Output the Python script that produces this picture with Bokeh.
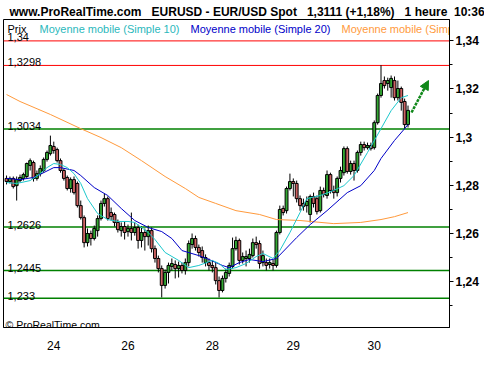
from bokeh.plotting import figure
from bokeh.models import Range1d, Span, Label, FixedTicker, Arrow, NormalHead, ColumnDataSource, Title
from bokeh.core.properties import value
from bokeh.embed import file_html
from bokeh.resources import INLINE

# ---------------- data (EUR/USD, hourly candles) ----------------
opens = [
1.2828,1.2815,1.2828,1.2798,1.2819,1.2828,1.2836,1.2882,1.2894,1.2828,
1.2848,1.2861,1.2907,1.2931,1.2961,1.2948,1.2902,1.2861,1.2832,1.2786,
1.2823,1.2807,1.2715,1.2665,1.2561,1.2599,1.2578,1.2611,1.2661,1.2724,
1.2744,1.2686,1.2678,1.2645,1.2611,1.2628,1.2607,1.2620,1.2603,1.2624,
1.2570,1.2603,1.2586,1.2611,1.2536,1.2495,1.2453,1.2383,1.2437,1.2462,
1.2470,1.2453,1.2466,1.2445,1.2478,1.2553,1.2578,1.2541,1.2528,1.2478,
1.2478,1.2466,1.2457,1.2403,1.2362,1.2412,1.2433,1.2462,1.2536,1.2570,
1.2487,1.2495,1.2495,1.2507,1.2561,1.2557,1.2478,1.2478,1.2470,1.2474,
1.2466,1.2603,1.2703,1.2694,1.2786,1.2815,1.2807,1.2744,1.2724,1.2715,
1.2678,1.2753,1.2744,1.2694,1.2778,1.2757,1.2844,1.2778,1.2769,1.2828,
1.2852,1.2952,1.2857,1.2890,1.2861,1.2936,1.2969,1.2956,1.2965,1.2956,
1.3060,1.3173,1.3235,1.3223,1.3206,1.3235,1.3164,1.3202,1.3148,1.3052,
]
closes = [
1.2815,1.2828,1.2794,1.2823,1.2832,1.2844,1.2890,1.2902,1.2828,1.2848,
1.2869,1.2907,1.2936,1.2965,1.2944,1.2902,1.2861,1.2828,1.2786,1.2823,
1.2769,1.2715,1.2665,1.2561,1.2599,1.2578,1.2620,1.2661,1.2724,1.2744,
1.2661,1.2670,1.2645,1.2615,1.2628,1.2603,1.2620,1.2603,1.2624,1.2570,
1.2603,1.2586,1.2611,1.2536,1.2495,1.2453,1.2383,1.2437,1.2466,1.2474,
1.2453,1.2466,1.2445,1.2478,1.2557,1.2578,1.2541,1.2520,1.2499,1.2499,
1.2466,1.2457,1.2403,1.2362,1.2412,1.2437,1.2466,1.2536,1.2570,1.2487,
1.2503,1.2503,1.2512,1.2561,1.2553,1.2474,1.2507,1.2466,1.2478,1.2466,
1.2603,1.2699,1.2686,1.2786,1.2815,1.2807,1.2744,1.2715,1.2711,1.2732,
1.2753,1.2724,1.2690,1.2778,1.2761,1.2844,1.2778,1.2769,1.2828,1.2861,
1.2952,1.2857,1.2890,1.2861,1.2936,1.2969,1.2956,1.2965,1.2952,1.3060,
1.3173,1.3223,1.3214,1.3235,1.3244,1.3164,1.3202,1.3144,1.3052,1.3111,
]
highs = [
1.2840,1.2836,1.2836,1.2836,1.2844,1.2852,1.2894,1.2911,1.2902,1.2861,
1.2882,1.2915,1.2944,1.3006,1.2981,1.2956,1.2911,1.2869,1.2840,1.2832,
1.2836,1.2815,1.2736,1.2674,1.2620,1.2611,1.2632,1.2674,1.2736,1.2765,
1.2753,1.2707,1.2686,1.2657,1.2645,1.2649,1.2636,1.2686,1.2645,1.2636,
1.2628,1.2620,1.2632,1.2624,1.2549,1.2507,1.2466,1.2449,1.2478,1.2495,
1.2487,1.2482,1.2478,1.2495,1.2570,1.2599,1.2590,1.2553,1.2545,1.2512,
1.2495,1.2487,1.2478,1.2420,1.2424,1.2453,1.2478,1.2582,1.2586,1.2578,
1.2520,1.2528,1.2536,1.2578,1.2586,1.2570,1.2528,1.2495,1.2495,1.2491,
1.2611,1.2715,1.2715,1.2794,1.2848,1.2828,1.2819,1.2757,1.2744,1.2753,
1.2761,1.2769,1.2757,1.2794,1.2790,1.2861,1.2852,1.2798,1.2836,1.2877,
1.2961,1.2961,1.2902,1.2902,1.2944,1.2981,1.2981,1.2977,1.2977,1.3069,
1.3181,1.3299,1.3252,1.3247,1.3256,1.3252,1.3235,1.3210,1.3160,1.3131,
]
lows = [
1.2803,1.2807,1.2786,1.2736,1.2811,1.2819,1.2828,1.2861,1.2815,1.2819,
1.2836,1.2852,1.2898,1.2923,1.2931,1.2894,1.2852,1.2819,1.2778,1.2769,
1.2761,1.2707,1.2657,1.2541,1.2545,1.2549,1.2570,1.2586,1.2653,1.2711,
1.2653,1.2653,1.2628,1.2603,1.2586,1.2574,1.2586,1.2570,1.2590,1.2536,
1.2541,1.2528,1.2549,1.2520,1.2478,1.2437,1.2333,1.2370,1.2391,1.2445,
1.2412,1.2416,1.2433,1.2428,1.2462,1.2536,1.2528,1.2503,1.2478,1.2462,
1.2445,1.2437,1.2387,1.2333,1.2354,1.2395,1.2420,1.2453,1.2528,1.2470,
1.2474,1.2462,1.2478,1.2499,1.2536,1.2453,1.2462,1.2445,1.2453,1.2445,
1.2457,1.2595,1.2674,1.2682,1.2778,1.2753,1.2728,1.2694,1.2694,1.2686,
1.2645,1.2707,1.2678,1.2686,1.2749,1.2744,1.2765,1.2744,1.2753,1.2811,
1.2840,1.2848,1.2844,1.2819,1.2852,1.2923,1.2944,1.2948,1.2944,1.2948,
1.3052,1.3164,1.3202,1.3193,1.3164,1.3152,1.3152,1.3110,1.3035,1.3040,
]

ma10_idx = [0,3,7,10,12,14,16,18,20,22,24,27,30,33,36,38,42,44,47,51,54,57,61,63,65,68,71,74,76,79,
            81,84,87,89,93,97,100,103,107,111,114,117,119]
ma10_val = [1.2811,1.2807,1.2819,1.2848,1.2873,1.2890,1.2886,1.2873,1.2848,1.2807,
            1.2744,1.2682,1.2657,1.2649,1.2649,1.2645,1.2603,1.2574,1.2520,1.2487,
            1.2457,1.2466,1.2487,1.2474,1.2449,1.2457,1.2474,1.2503,1.2516,1.2495,
            1.2528,1.2603,1.2686,1.2744,1.2757,1.2778,1.2798,1.2840,1.2936,1.3035,
            1.3110,1.3164,1.3173]
ma20_idx = [0,4,8,11,14,16,20,22,26,30,34,38,42,46,49,52,57,60,64,66,69,72,76,80,86,90,95,101,105,
            109,111,115,118,119]
ma20_val = [1.2828,1.2823,1.2832,1.2852,1.2873,1.2873,1.2861,1.2840,1.2790,1.2757,
            1.2703,1.2653,1.2624,1.2607,1.2578,1.2528,1.2507,1.2491,1.2466,1.2457,
            1.2478,1.2491,1.2482,1.2495,1.2582,1.2636,1.2694,1.2769,1.2798,1.2861,
            1.2911,1.2986,1.3035,1.3052]
ma100_idx = [0,4,13,22,28,34,40,47,53,57,62,68,75,80,87,97,105,111,115,119]
ma100_val = [1.3177,1.3148,1.3094,1.3035,1.2998,1.2956,1.2902,1.2836,1.2786,1.2749,
             1.2724,1.2694,1.2678,1.2657,1.2653,1.2640,1.2645,1.2657,1.2669,1.2686]

red_levels = [1.34, 1.3298]
green_levels = [1.3034, 1.2626, 1.2445, 1.233]
level_texts = ["1,34", "1,3298", "1,3034", "1,2626", "1,2445", "1,233"]

day_ticks = [14, 36, 61, 85, 109]
day_labels = ["24", "26", "28", "29", "30"]
price_ticks = [1.24, 1.26, 1.28, 1.30, 1.32, 1.34]
price_labels = ["1,24", "1,26", "1,28", "1,3", "1,32", "1,34"]
price_minor = [1.23, 1.25, 1.27, 1.29, 1.31, 1.33]

header = ["www.ProRealTime.com", "EURUSD - EUR/USD Spot", "1,3111 (+1,18%)", "1 heure", "10:36"]
legend = ["Prix", "Moyenne mobile (Simple 10)", "Moyenne mobile (Simple 20)", "Moyenne mobile (Simple 100)"]

# ---------------- styling ----------------
FONT = "Liberation Sans"
UP = "#33a833"
DOWN = "#cd6262"
CYAN = "#1cc8cc"
BLUE = "#0000c8"
ORANGE = "#ff9a3c"
GREEN_LINE = "#008000"
NB = "\u00a0"

X0, X1 = -0.9, 131.3
Y0, Y1 = 1.2208, 1.3489
FW, FH = 446, 308

p = figure(width=484, height=354, output_backend="svg", toolbar_location=None,
           x_range=Range1d(X0, X1), y_range=Range1d(Y0, Y1),
           y_axis_location="right", min_border_left=3, min_border_right=35,
           min_border_top=19, min_border_bottom=27, title=None)
p.xgrid.visible = False
p.ygrid.visible = False
p.outline_line_color = "black"
p.outline_line_width = 1
p.outline_line_alpha = 1
p.background_fill_color = "white"
p.border_fill_color = "white"

# header as a title above the frame
head_text = (header[0] + NB * 3 + header[1] + NB * 3 + header[2] + NB * 3 + header[3] + NB * 2 + header[4])
p.add_layout(Title(text=head_text, text_font=FONT, text_font_size="12px", text_font_style="bold",
                   text_color="black", align="left", offset=6, standoff=2), "above")

# x axis
p.xaxis.ticker = FixedTicker(ticks=day_ticks)
p.xaxis.major_label_overrides = dict(zip(day_ticks, day_labels))
p.xaxis.major_tick_line_color = None
p.xaxis.minor_tick_line_color = None
p.xaxis.axis_line_color = "black"
p.xaxis.major_label_standoff = 7
p.xaxis.major_label_text_font = FONT
p.xaxis.major_label_text_font_size = "12px"
p.xaxis.major_label_text_color = "black"

# y axis (right)
p.yaxis.ticker = FixedTicker(ticks=price_ticks, minor_ticks=price_minor)
p.yaxis.major_label_overrides = dict(zip(price_ticks, price_labels))
p.yaxis.major_tick_out = 4
p.yaxis.major_tick_in = 0
p.yaxis.minor_tick_out = 3
p.yaxis.minor_tick_in = 0
p.yaxis.major_tick_line_color = "black"
p.yaxis.minor_tick_line_color = "black"
p.yaxis.axis_line_color = "black"
p.yaxis.major_label_standoff = 2
p.yaxis.major_label_text_font = FONT
p.yaxis.major_label_text_font_size = "12px"
p.yaxis.major_label_text_font_style = "bold"
p.yaxis.major_label_text_color = "black"

# level lines (behind the candles)
for lv in red_levels:
    p.add_layout(Span(location=lv, dimension="width", line_color="#ff0000", line_width=1, level="underlay"))
for lv in green_levels:
    p.add_layout(Span(location=lv, dimension="width", line_color=GREEN_LINE, line_width=1.5, level="underlay"))

# candles
idx = list(range(len(closes)))
src = ColumnDataSource(dict(
    x=idx, o=opens, c=closes, h=highs, l=lows,
    top=[max(a, b) for a, b in zip(opens, closes)],
    bot=[min(a, b) for a, b in zip(opens, closes)],
    col=[UP if c >= o else DOWN for o, c in zip(opens, closes)],
))
p.segment(x0="x", y0="h", x1="x", y1="l", source=src, line_color="black", line_width=1)
p.vbar(x="x", width=0.85, top="top", bottom="bot", source=src,
       fill_color="col", line_color="black", line_width=1)

# moving averages
p.line(ma100_idx, ma100_val, line_color=ORANGE, line_width=1)
p.line(ma20_idx, ma20_val, line_color=BLUE, line_width=1)
p.line(ma10_idx, ma10_val, line_color=CYAN, line_width=1)

# helpers: reference-pixel position -> screen units inside frame / data units
def sx(xr):
    return xr - 3

def sy(yr):
    return 327 - yr

def dx(xr):
    return X0 + (xr - 3) * (X1 - X0) / FW

def dy(yr):
    return Y1 - (yr - 19) * (Y1 - Y0) / FH

def lab(text, xr, yr, color="black", size="11px", style="normal"):
    p.add_layout(Label(x=sx(xr), y=sy(yr), x_units="screen", y_units="screen", text=text,
                       text_font=FONT, text_font_size=size, text_font_style=style,
                       text_color=color, text_baseline="alphabetic", text_align="left"))

# legend
lab(legend[0], 7, 28)
lab(legend[1], 39, 28, color="#2ab8bc")
lab(legend[2], 190, 28, color=BLUE)
p.text(x=[dx(341)], y=[dy(28)], text=[legend[3]], text_font=value(FONT), text_font_size="11px",
       text_color=ORANGE, text_baseline="alphabetic", text_align="left")

# level labels
for t, yr in zip(level_texts, [36, 61, 125, 224, 267, 295]):
    lab(t, 7, yr)

lab("© ProRealTime.com", 5, 324, size="10.5px")

# arrow
p.add_layout(Arrow(end=NormalHead(size=9, fill_color="#10881a", line_color="#10881a"),
                   x_start=dx(411), y_start=dy(112), x_end=dx(428), y_end=dy(80),
                   line_color="#10881a", line_width=2.5, line_dash="3 1"))

open("out.html", "w").write(file_html(p, INLINE))
